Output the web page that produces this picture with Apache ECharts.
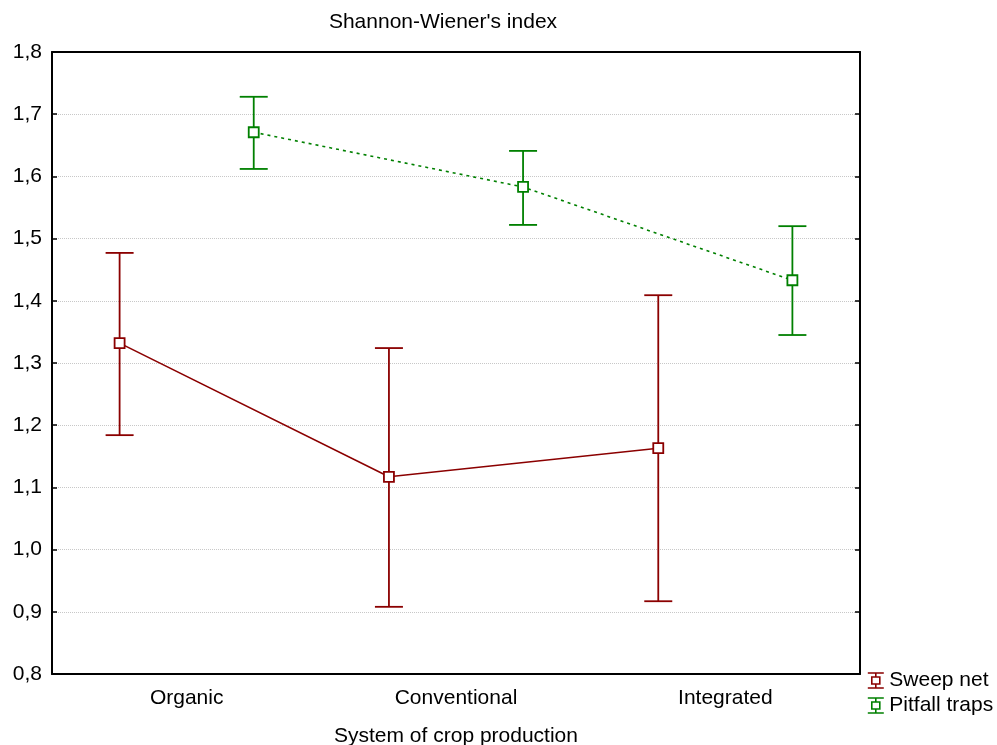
<!DOCTYPE html>
<html>
<head>
<meta charset="utf-8">
<script src="https://cdn.jsdelivr.net/npm/echarts@6/dist/echarts.min.js"></script>
<style>html,body{margin:0;padding:0;background:#fff;}#c{width:997px;height:745px;}</style>
</head>
<body>
<div id="c"></div>
<script>
var categories = ['Organic', 'Conventional', 'Integrated'];
var seriesNames = ['Sweep net', 'Pitfall traps'];
var sweepMean = [1.332, 1.117, 1.163];
var sweepUpper = [1.477, 1.324, 1.409];
var sweepLower = [1.184, 0.908, 0.917];
var pitfallMean = [1.671, 1.583, 1.433];
var pitfallUpper = [1.728, 1.641, 1.520];
var pitfallLower = [1.612, 1.522, 1.345];
var yTicks = [0.8, 0.9, 1.0, 1.1, 1.2, 1.3, 1.4, 1.5, 1.6, 1.7, 1.8];

var FONT = 'Liberation Sans, Arial, sans-serif';
var FS = 21;
var RED = '#8b0000';
var GREEN = '#008000';
var OFFSET = 0.249;

function pts(mean, off) {
  return mean.map(function (v, i) { return [i + 0.5 + off, v]; });
}
function errs(lo, hi, off) {
  return lo.map(function (v, i) { return [i + 0.5 + off, v, hi[i]]; });
}
function errRender(color) {
  return function (params, api) {
    var x = api.value(0);
    var lo = api.coord([x, api.value(1)]);
    var hi = api.coord([x, api.value(2)]);
    var w = 14;
    var st = { stroke: color, lineWidth: 1.8 };
    return {
      type: 'group',
      children: [
        { type: 'line', shape: { x1: lo[0], y1: lo[1], x2: hi[0], y2: hi[1] }, style: st },
        { type: 'line', shape: { x1: lo[0] - w, y1: lo[1], x2: lo[0] + w, y2: lo[1] }, style: st },
        { type: 'line', shape: { x1: hi[0] - w, y1: hi[1], x2: hi[0] + w, y2: hi[1] }, style: st }
      ]
    };
  };
}
var legendIcon = 'path://M0,0H16M8,0V4M4,4H12V11H4ZM8,11V15M0,15H16';

var chart = echarts.init(document.getElementById('c'), null, { renderer: 'canvas' });
chart.setOption({
  animation: false,
  backgroundColor: '#fff',
  textStyle: { fontFamily: FONT },
  title: {
    text: "Shannon-Wiener's index",
    left: 438, top: 7, textAlign: 'center',
    textStyle: { fontFamily: FONT, fontSize: FS, fontWeight: 'normal', color: '#000' }
  },
  legend: {
    orient: 'vertical',
    left: 862, top: 665,
    itemWidth: 17, itemHeight: 15, itemGap: 4,
    textStyle: { fontFamily: FONT, fontSize: FS, color: '#000', padding: [0, 0, 0, 0] },
    data: [
      { name: seriesNames[0], icon: legendIcon, itemStyle: { color: '#fff', borderColor: RED, borderWidth: 1.6 } },
      { name: seriesNames[1], icon: legendIcon, itemStyle: { color: '#fff', borderColor: GREEN, borderWidth: 1.6 } }
    ]
  },
  grid: { left: 52, top: 52, width: 808, height: 622, containLabel: false, outerBoundsMode: 'none' },
  xAxis: [
    { type: 'value', min: 0, max: 3, show: false },
    {
      type: 'category', data: categories, position: 'bottom', boundaryGap: true,
      name: 'System of crop production', nameLocation: 'middle', nameGap: 52,
      nameTextStyle: { fontFamily: FONT, fontSize: FS, color: '#000' },
      axisLine: { lineStyle: { color: '#000', width: 2 } },
      axisTick: { inside: true, alignWithLabel: true, length: 6, lineStyle: { color: '#000', width: 1.5 } },
      axisLabel: { fontFamily: FONT, fontSize: FS, color: '#000', margin: 14 },
      splitLine: { show: false }
    },
    {
      type: 'category', data: categories, position: 'top', boundaryGap: true,
      axisLine: { lineStyle: { color: '#000', width: 2 } },
      axisTick: { inside: true, alignWithLabel: true, length: 6, lineStyle: { color: '#000', width: 1.5 } },
      axisLabel: { show: false },
      splitLine: { show: false }
    }
  ],
  yAxis: [
    {
      type: 'value', min: yTicks[0], max: yTicks[yTicks.length - 1], interval: 0.1,
      axisLine: { show: true, lineStyle: { color: '#000', width: 2 } },
      axisTick: { show: true, inside: true, length: 5, lineStyle: { color: '#000', width: 1.5 } },
      axisLabel: {
        fontFamily: FONT, fontSize: FS, color: '#000', margin: 10,
        formatter: function (v) { return (Math.round(v * 10) / 10).toFixed(1).replace('.', ','); }
      },
      splitLine: { show: true, lineStyle: { color: '#c8c8c8', type: [1, 1], width: 1 } }
    },
    {
      type: 'value', position: 'right', min: yTicks[0], max: yTicks[yTicks.length - 1], interval: 0.1,
      axisLine: { show: true, lineStyle: { color: '#000', width: 2 } },
      axisTick: { show: true, inside: true, length: 5, lineStyle: { color: '#000', width: 1.5 } },
      axisLabel: { show: false },
      splitLine: { show: false }
    }
  ],
  series: [
    {
      name: seriesNames[0], type: 'custom', xAxisIndex: 0, yAxisIndex: 0,
      renderItem: errRender(RED), data: errs(sweepLower, sweepUpper, -OFFSET), z: 2
    },
    {
      name: seriesNames[1], type: 'custom', xAxisIndex: 0, yAxisIndex: 0,
      renderItem: errRender(GREEN), data: errs(pitfallLower, pitfallUpper, OFFSET), z: 2
    },
    {
      name: seriesNames[0], type: 'line', xAxisIndex: 0, yAxisIndex: 0,
      data: pts(sweepMean, -OFFSET), symbol: 'rect', symbolSize: 10, showAllSymbol: true,
      lineStyle: { color: RED, width: 1.6 },
      itemStyle: { color: '#fff', borderColor: RED, borderWidth: 1.8 }, z: 3
    },
    {
      name: seriesNames[1], type: 'line', xAxisIndex: 0, yAxisIndex: 0,
      data: pts(pitfallMean, OFFSET), symbol: 'rect', symbolSize: 10, showAllSymbol: true,
      lineStyle: { color: GREEN, width: 1.6, type: [3, 4] },
      itemStyle: { color: '#fff', borderColor: GREEN, borderWidth: 1.8 }, z: 3
    }
  ]
});
</script>
</body>
</html>
